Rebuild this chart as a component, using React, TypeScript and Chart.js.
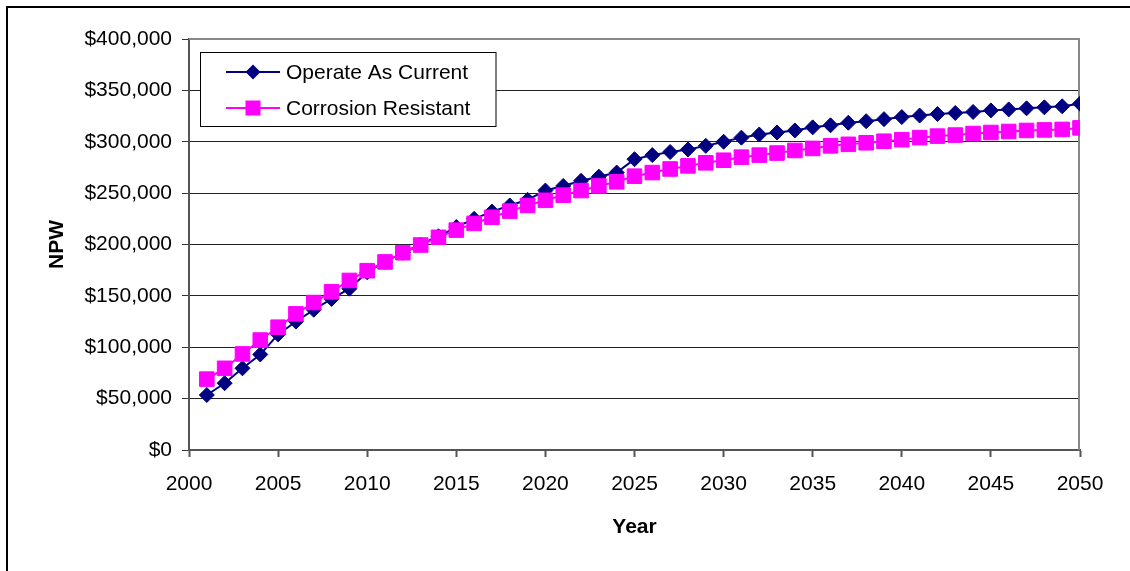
import { useEffect, useRef } from 'react';
import { Chart, registerables } from 'chart.js';

Chart.register(...registerables);

const years = [
  2001, 2002, 2003, 2004, 2005, 2006, 2007, 2008, 2009, 2010,
  2011, 2012, 2013, 2014, 2015, 2016, 2017, 2018, 2019, 2020,
  2021, 2022, 2023, 2024, 2025, 2026, 2027, 2028, 2029, 2030,
  2031, 2032, 2033, 2034, 2035, 2036, 2037, 2038, 2039, 2040,
  2041, 2042, 2043, 2044, 2045, 2046, 2047, 2048, 2049, 2050,
];

const operateAsCurrent = [
  53500, 65000, 79500, 93000, 112500, 125000, 136500, 147000, 157000, 173000,
  183000, 192000, 200000, 208000, 217000, 225000, 232000, 238000, 243500, 252500,
  257000, 262000, 266000, 270000, 283000, 287000, 290000, 292500, 296000, 300000,
  304000, 307000, 309000, 311000, 314000, 316000, 318500, 320000, 322000, 324000,
  325500, 327000, 328000, 329000, 330500, 331500, 332500, 333500, 334500, 337000,
];

const corrosionResistant = [
  69000, 79500, 93500, 107000, 119500, 132500, 143500, 154000, 165000, 174500,
  183000, 192000, 199500, 207000, 214000, 220500, 226500, 232500, 238000, 243000,
  248000, 252500, 257000, 261000, 266500, 270000, 273500, 276500, 279500, 282000,
  285000, 287000, 289000, 291500, 293500, 296000, 297500, 299000, 300500, 302000,
  304000, 305500, 306500, 308000, 309000, 310000, 311000, 311500, 312000, 313500,
];

const seriesNames = ['Operate As Current', 'Corrosion Resistant'];
const xTicks = [2000, 2005, 2010, 2015, 2020, 2025, 2030, 2035, 2040, 2045, 2050];
const yTicks = [0, 50000, 100000, 150000, 200000, 250000, 300000, 350000, 400000];
const xTitle = 'Year';
const yTitle = 'NPW';

const NAVY = '#000080';
const MAGENTA = '#FF00FF';
const FONT = '"Liberation Sans", Arial, sans-serif';

export default function App() {
  const ref = useRef<HTMLCanvasElement>(null);

  useEffect(() => {
    const canvas = ref.current;
    if (!canvas) return;

    const framePlugin = {
      id: 'frame',
      beforeDatasetsDraw(chart: any) {
        const { ctx, chartArea: a } = chart;
        ctx.save();
        // outer border
        ctx.strokeStyle = '#000';
        ctx.lineWidth = 2;
        ctx.beginPath();
        ctx.moveTo(7, 571);
        ctx.lineTo(7, 7);
        ctx.lineTo(1130, 7);
        ctx.stroke();
        // plot area top/right border
        ctx.strokeStyle = '#888';
        ctx.lineWidth = 2;
        ctx.beginPath();
        ctx.moveTo(a.left, a.top);
        ctx.lineTo(a.right - 1, a.top);
        ctx.lineTo(a.right - 1, a.bottom);
        ctx.stroke();
        ctx.restore();
      },
      afterDraw(chart: any) {
        const { ctx } = chart;
        ctx.save();
        // legend box
        ctx.fillStyle = '#fff';
        ctx.fillRect(200.5, 52.5, 295.5, 74);
        ctx.strokeStyle = '#000';
        ctx.lineWidth = 1;
        ctx.strokeRect(200.5, 52.5, 295.5, 74);
        const rows = [
          { y: 72, color: NAVY, shape: 'diamond', label: seriesNames[0] },
          { y: 108, color: MAGENTA, shape: 'square', label: seriesNames[1] },
        ];
        rows.forEach((r) => {
          ctx.strokeStyle = r.color;
          ctx.lineWidth = 2;
          ctx.beginPath();
          ctx.moveTo(226, r.y);
          ctx.lineTo(280, r.y);
          ctx.stroke();
          ctx.fillStyle = r.color;
          const cx = 253;
          if (r.shape === 'diamond') {
            ctx.beginPath();
            ctx.moveTo(cx, r.y - 7.5);
            ctx.lineTo(cx + 7.5, r.y);
            ctx.lineTo(cx, r.y + 7.5);
            ctx.lineTo(cx - 7.5, r.y);
            ctx.closePath();
            ctx.fill();
          } else {
            ctx.fillRect(cx - 7.5, r.y - 7.5, 15, 15);
          }
          ctx.fillStyle = '#000';
          ctx.font = `21px ${FONT}`;
          ctx.textAlign = 'left';
          ctx.textBaseline = 'middle';
          ctx.fillText(r.label, 286, r.y + 1);
        });
        ctx.restore();
      },
    };

    const chart = new Chart(canvas, {
      type: 'line',
      data: {
        datasets: [
          {
            label: seriesNames[0],
            data: years.map((x, i) => ({ x, y: operateAsCurrent[i] })),
            borderColor: NAVY,
            backgroundColor: NAVY,
            borderWidth: 2,
            pointStyle: 'rectRot',
            pointRadius: 7.5,
            pointBorderWidth: 1,
            pointBorderColor: NAVY,
            pointBackgroundColor: NAVY,
            order: 1,
          },
          {
            label: seriesNames[1],
            data: years.map((x, i) => ({ x, y: corrosionResistant[i] })),
            borderColor: MAGENTA,
            backgroundColor: MAGENTA,
            borderWidth: 2,
            pointStyle: 'rect',
            pointRadius: 10.3,
            pointBorderWidth: 1,
            pointBorderColor: MAGENTA,
            pointBackgroundColor: MAGENTA,
            order: 0,
          },
        ],
      },
      plugins: [framePlugin],
      options: {
        responsive: false,
        animation: false,
        devicePixelRatio: 1,
        layout: { padding: { top: 39, right: 50, left: 0, bottom: 0 } },
        plugins: {
          legend: { display: false },
          tooltip: { enabled: false },
        },
        scales: {
          x: {
            type: 'linear',
            min: 2000,
            max: 2050,
            afterFit(scale: any) {
              scale.height = 121;
            },
            afterBuildTicks(scale: any) {
              scale.ticks = xTicks.map((v) => ({ value: v }));
            },
            ticks: {
              color: '#000',
              font: { family: FONT, size: 21 },
              padding: 15,
              maxRotation: 0,
              autoSkip: false,
              callback: (v: any) => String(v),
            },
            grid: {
              drawOnChartArea: false,
              drawTicks: true,
              tickLength: 7,
              tickColor: '#555',
              tickWidth: 2,
            },
            border: { color: '#555', width: 2 },
            title: {
              display: true,
              text: xTitle,
              color: '#000',
              font: { family: FONT, size: 21, weight: 'bold' },
              padding: { top: 0, bottom: 31 },
            },
          },
          y: {
            type: 'linear',
            min: 0,
            max: 400000,
            afterFit(scale: any) {
              scale.width = 189;
            },
            afterBuildTicks(scale: any) {
              scale.ticks = yTicks.map((v) => ({ value: v }));
            },
            ticks: {
              color: '#000',
              font: { family: FONT, size: 21 },
              padding: 10,
              autoSkip: false,
              callback: (v: any) => '$' + Number(v).toLocaleString('en-US'),
            },
            grid: {
              color: '#222',
              lineWidth: 1,
              drawTicks: true,
              tickLength: 7,
              tickColor: '#333',
            },
            border: { color: '#555', width: 2 },
            title: {
              display: true,
              text: yTitle,
              color: '#000',
              font: { family: FONT, size: 21, weight: 'bold' },
              padding: { top: 45, bottom: 0 },
            },
          },
        },
      },
    } as any);

    return () => chart.destroy();
  }, []);

  return (
    <canvas
      ref={ref}
      width={1130}
      height={571}
      style={{ position: 'fixed', left: 0, top: 0, width: 1130, height: 571, background: '#fff' }}
    />
  );
}
